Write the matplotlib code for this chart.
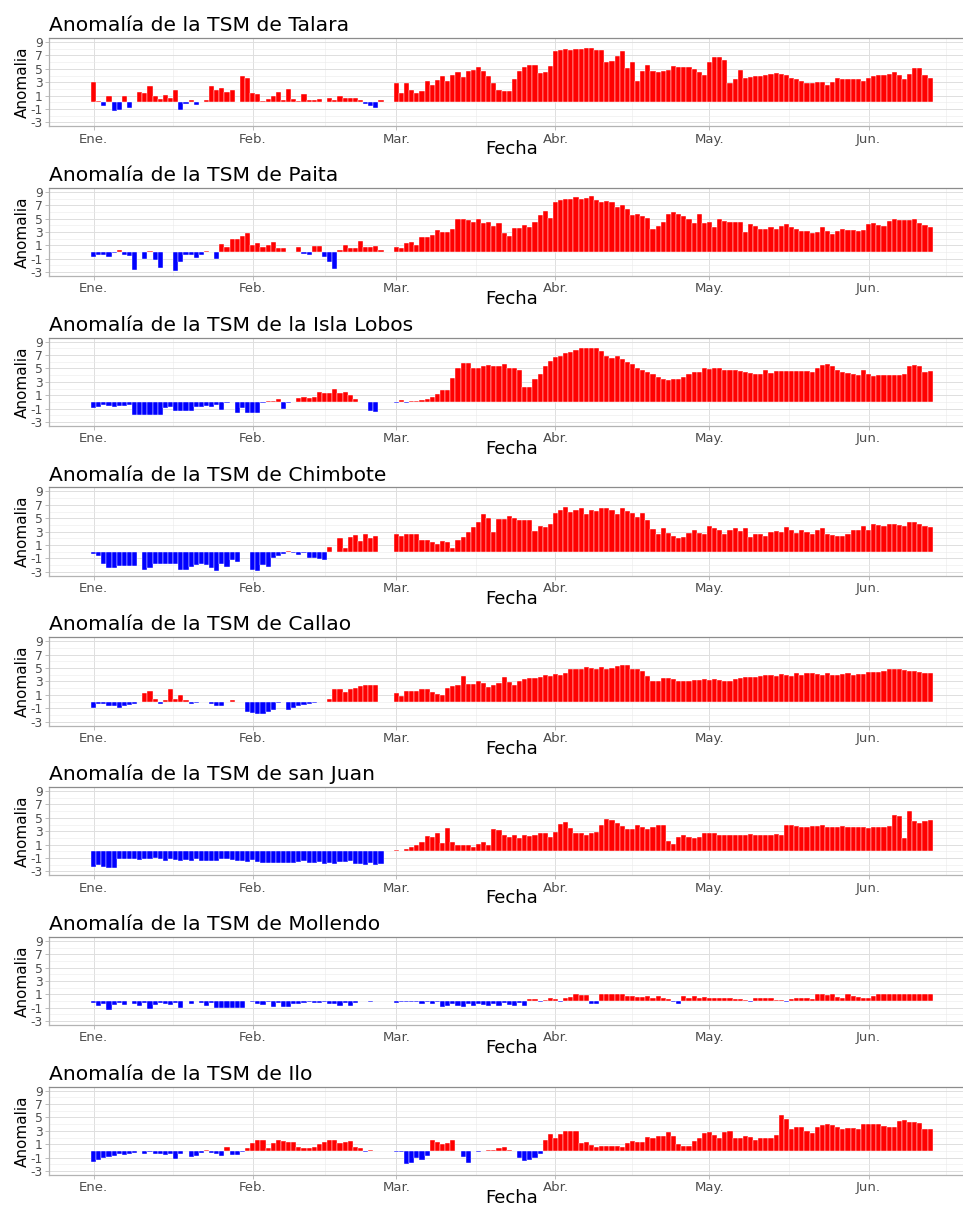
import numpy as np
import pandas as pd
import matplotlib
matplotlib.use("Agg")
import matplotlib.pyplot as plt

plt.rcParams["font.family"] = ["DejaVu Sans"]
plt.rcParams["axes.unicode_minus"] = False

N = None
fechas = pd.date_range("2023-01-01", periods=164, freq="D")

# anomalías diarias de TSM (°C), ene-jun 2023; N = sin dato
talara = [3.0, 0.2, -0.6, 1.0, -1.3, -1.1, 1.0, -0.8, N, 1.6, 1.4, 2.4, 0.9, 0.5, 1.1, 0.6,
          1.9, -1.2, -0.3, 0.3, -0.4, 0.1, 0.4, 2.4, 1.9, 2.1, 1.6, 1.8, 0.1, 3.9, 3.7,
          1.4, 1.2, 0.2, 0.5, 0.9, 1.5, 0.3, 2.0, 0.5, 0.2, 1.2, 0.3, 0.3, 0.5, N, 0.6,
          0.4, 0.9, 0.6, 0.6, 0.7, 0.3, -0.3, -0.5, -0.8, 0.3, N, N,
          2.9, 1.4, 2.9, 1.85, 1.45, 1.75, 3.25, 2.55, 3.35, 3.95, 3.2, 4.1, 4.5, 3.85, 4.7,
          4.85, 5.25, 4.7, 3.95, 2.95, 1.85, 1.7, 1.7, 3.45, 4.65, 5.25, 5.55, 5.55, 4.4, 4.6, 5.5,
          7.7, 7.85, 7.9, 7.75, 7.9, 7.9, 8.05, 8.05, 7.8, 7.8, 5.95, 6.2, 6.95, 7.65, 5.15,
          6.05, 3.25, 4.75, 5.65, 4.65, 4.5, 4.65, 4.8, 5.4, 5.3, 5.3, 5.25, 5.05, 4.55, 4.1,
          5.95, 6.7, 6.7, 6.3, 2.85, 3.45, 4.9, 3.7, 3.85, 3.95, 3.9, 4.05, 4.2, 4.45, 4.2,
          4.05, 3.7, 3.5, 3.2, 2.95, 2.95, 3.05, 3.05, 2.6, 3.0, 3.7, 3.55, 3.45, 3.45, 3.55, 3.2,
          3.7, 3.9, 4.05, 4.05, 4.25, 4.5, 4.1, 3.55, 4.2, 5.2, 5.2, 4.05, 3.6]
paita = [-0.8, -0.5, -0.5, -0.8, -0.2, 0.35, -0.4, -0.6, -2.7, N, -1.1, 0.1, -1.15, -2.4, N, N,
         -2.8, -1.5, -0.5, -0.5, -0.9, -0.5, 0.1, N, -1.0, 1.2, 0.75, 1.9, 2.0, 2.4, 2.9,
         1.0, 1.4, 0.8, 1.0, 1.5, 0.65, 0.65, 0.05, N, 0.75, -0.3, -0.5, 0.9, 0.9, -0.75, -1.5,
         -2.6, 0.35, 1.0, 0.6, 0.6, 1.6, 0.7, 0.7, 0.95, 0.35, N, N,
         0.7, 0.55, 1.35, 1.45, 1.05, 2.3, 2.3, 2.55, 3.3, 2.95, 2.95, 3.45, 5.0, 4.9, 4.85,
         4.55, 4.9, 4.4, 4.55, 3.95, 4.3, 2.9, 2.45, 3.55, 3.55, 4.0, 3.7, 4.5, 5.6, 6.15, 5.1,
         7.45, 7.8, 7.9, 7.9, 8.2, 7.95, 8.1, 8.4, 7.8, 7.5, 7.65, 7.45, 6.8, 7.0, 6.4,
         5.5, 5.75, 5.45, 5.15, 3.5, 3.85, 4.45, 5.75, 6.05, 5.65, 5.35, 5.0, 4.3, 5.65, 4.4,
         4.45, 3.75, 4.9, 4.6, 4.5, 4.5, 4.5, 3.0, 4.2, 3.95, 3.4, 3.45, 3.75, 3.5, 3.9,
         4.2, 3.8, 3.45, 3.15, 3.15, 2.9, 3.05, 3.7, 3.15, 2.75, 3.15, 3.5, 3.3, 3.25, 3.1, 3.25,
         4.2, 4.4, 4.05, 3.95, 4.65, 5.0, 4.75, 4.75, 4.75, 4.9, 4.4, 4.1, 3.75]
lobos = [-0.9, -0.7, -0.5, -0.6, -0.8, -0.6, -0.6, -0.5, -1.9, -1.9, -1.9, -2.0, -2.0, -1.9, -0.9, -0.8,
         -1.4, -1.4, -1.4, -1.4, -0.8, -0.8, -0.6, -0.8, -0.4, -1.2, -0.1, N, -1.6, -0.9, -1.6,
         -1.6, -1.6, -0.1, 0.2, 0.2, 0.5, -1.0, -0.1, N, 0.6, 0.7, 0.6, 0.8, 1.5, 1.4, 1.3,
         1.9, 1.4, 1.5, 1.1, 0.5, 0.0, N, -1.4, -1.5, N, N, N,
         -0.2, 0.3, -0.2, 0.1, 0.2, 0.3, 0.5, 0.7, 1.2, 1.8, 1.8, 3.5, 5.0, 5.8, 5.8,
         5.1, 5.1, 5.4, 5.5, 5.3, 5.4, 5.6, 5.1, 5.0, 4.7, 2.3, 2.3, 3.4, 4.2, 5.3, 6.1,
         6.7, 6.9, 7.3, 7.4, 7.8, 8.0, 8.0, 8.0, 8.0, 7.6, 6.8, 6.5, 6.9, 6.4, 6.0,
         5.6, 5.1, 4.8, 4.4, 4.1, 3.7, 3.4, 3.3, 3.4, 3.4, 3.7, 4.2, 4.4, 4.5, 5.0,
         4.9, 5.0, 5.0, 4.8, 4.8, 4.7, 4.6, 4.5, 4.3, 4.2, 4.2, 4.7, 4.3, 4.6, 4.6,
         4.6, 4.6, 4.6, 4.6, 4.6, 4.5, 5.0, 5.5, 5.7, 5.3, 4.8, 4.5, 4.3, 4.1, 4.0, 4.8,
         4.2, 3.8, 4.0, 4.0, 4.0, 4.0, 4.0, 4.1, 5.3, 5.5, 5.4, 4.4, 4.6]
chimbote = [-0.4, -0.6, -1.8, -2.4, -2.4, -2.2, -2.2, -2.1, -2.1, N, -2.7, -2.4, -1.9, -1.9, -1.9, -1.8,
            -1.8, -2.7, -2.7, -2.3, -2.0, -1.9, -2.0, -2.4, -2.9, -1.9, -2.3, -1.2, -1.5, N, N,
            -2.7, -2.9, -2.0, -2.3, -0.9, -0.7, -0.3, 0.1, -0.2, -0.5, -0.2, -1.0, -1.0, -1.1, -1.2,
            0.7, 0.0, 2.0, 0.6, 2.2, 2.5, 1.6, 2.7, 2.0, 2.3, N, N, N,
            2.6, 2.3, 2.6, 2.6, 2.6, 1.8, 1.8, 1.4, 1.1, 1.6, 1.5, 0.5, 1.7, 2.2, 2.9,
            3.7, 4.4, 5.6, 5.0, 3.0, 4.9, 4.9, 5.3, 5.1, 4.8, 4.8, 4.8, 3.1, 3.8, 3.7, 4.1,
            5.8, 6.2, 6.7, 5.9, 6.2, 6.5, 5.6, 6.2, 6.1, 6.5, 6.6, 6.3, 5.7, 6.5, 6.1,
            5.8, 5.2, 5.8, 4.8, 3.4, 2.6, 3.6, 2.8, 2.3, 2.0, 2.2, 2.8, 3.2, 2.8, 2.7,
            3.9, 3.6, 3.2, 2.7, 3.2, 3.5, 3.1, 3.5, 2.2, 2.7, 2.6, 2.4, 2.9, 3.1, 3.0,
            3.7, 3.3, 2.8, 3.2, 3.0, 2.6, 3.3, 3.5, 2.7, 2.5, 2.3, 2.4, 2.7, 3.2, 3.2, 3.8,
            3.3, 4.1, 4.0, 3.9, 4.1, 4.1, 4.0, 3.9, 4.5, 4.5, 4.2, 3.8, 3.7]
callao = [-0.9, -0.4, -0.4, -0.6, -0.6, -0.9, -0.7, -0.5, -0.3, 0.0, 1.3, 1.6, 0.4, -0.3, 0.2, 1.8,
          0.4, 0.9, 0.2, -0.4, -0.2, 0.0, -0.1, -0.3, -0.6, -0.6, -0.1, 0.2, -0.1, -0.1, -1.6,
          -1.7, -1.8, -1.8, -1.6, -1.2, -0.2, 0.0, -1.2, -0.9, -0.7, -0.5, -0.3, -0.2, N, N,
          0.4, 1.9, 1.8, 1.4, 1.8, 2.0, 2.3, 2.4, 2.4, 2.5, N, N, N,
          1.2, 0.8, 1.5, 1.5, 1.5, 1.8, 1.8, 1.4, 1.1, 1.0, 2.0, 2.3, 2.5, 3.8, 2.6,
          2.6, 3.1, 2.8, 2.2, 2.5, 2.7, 3.6, 2.9, 2.5, 3.1, 3.3, 3.5, 3.5, 3.7, 3.9, 3.8,
          4.1, 3.9, 4.3, 4.8, 4.9, 4.9, 5.2, 5.0, 4.9, 5.1, 4.8, 5.0, 5.3, 5.5, 5.5,
          4.9, 4.8, 4.5, 3.8, 3.0, 3.0, 3.5, 3.5, 3.4, 3.1, 3.1, 3.0, 3.2, 3.2, 3.3,
          3.2, 3.3, 3.2, 3.1, 3.1, 3.3, 3.5, 3.6, 3.7, 3.6, 3.8, 4.0, 3.9, 3.8, 4.1,
          3.9, 3.8, 4.2, 4.0, 4.3, 4.2, 4.1, 3.9, 4.2, 4.0, 3.9, 4.1, 4.2, 4.0, 4.1, 4.1,
          4.4, 4.4, 4.4, 4.6, 4.8, 4.9, 4.8, 4.7, 4.6, 4.5, 4.4, 4.3, 4.3]
san_juan = [-2.4, -2.1, -2.3, -2.5, -2.5, -1.2, -1.1, -1.2, -1.1, -1.3, -1.2, -1.1, -1.0, -1.2, -1.4, -1.1,
            -1.3, -1.4, -1.3, -1.4, -1.2, -1.5, -1.4, -1.5, -1.4, -1.2, -1.2, -1.3, -1.5, -1.4, -1.6,
            -1.3, -1.6, -1.7, -1.7, -1.7, -1.7, -1.8, -1.7, -1.8, -1.6, -1.5, -1.7, -1.8, -1.6, -1.9,
            -1.8, -1.9, -1.6, -1.6, -1.5, -1.9, -1.9, -2.0, -1.8, -2.0, -1.9, N, N,
            0.15, 0.05, 0.3, 0.7, 1.0, 1.4, 2.3, 2.2, 2.7, 1.2, 3.5, 1.4, 0.9, 0.9, 1.0,
            0.7, 1.1, 1.4, 1.0, 3.4, 3.2, 2.5, 2.2, 2.4, 2.0, 2.4, 2.3, 2.5, 2.7, 2.7, 2.1,
            2.9, 4.1, 4.4, 3.5, 2.7, 2.7, 2.5, 2.8, 2.9, 3.9, 4.9, 4.7, 4.2, 3.8, 3.3,
            3.4, 4.0, 3.6, 3.4, 3.7, 4.0, 3.9, 1.5, 1.1, 2.2, 2.5, 2.2, 2.0, 2.1, 2.8,
            2.7, 2.7, 2.5, 2.4, 2.5, 2.5, 2.5, 2.4, 2.6, 2.5, 2.4, 2.5, 2.5, 2.6, 2.4,
            3.9, 3.9, 3.8, 3.6, 3.6, 3.8, 3.8, 3.9, 3.6, 3.6, 3.6, 3.8, 3.7, 3.6, 3.6, 3.6,
            3.5, 3.6, 3.6, 3.7, 3.8, 5.4, 5.3, 2.0, 6.0, 4.5, 4.3, 4.5, 4.7]
mollendo = [-0.3, -0.8, -0.4, -1.3, -0.6, -0.3, -0.6, N, -0.4, -0.7, -0.3, -1.2, -0.6, -0.3, -0.5, -0.6,
            -0.3, -1.0, N, -0.4, N, -0.3, -0.7, -0.3, -1.0, -1.0, -1.0, -1.1, -1.0, -1.0, 0.0,
            -0.2, -0.4, -0.6, -0.2, -0.9, -0.3, -0.9, -0.9, -0.5, -0.5, -0.3, -0.2, -0.3, -0.3, -0.2,
            -0.4, -0.5, -0.7, -0.3, -0.7, -0.3, N, N, -0.2, N, N, N, N,
            -0.3, -0.2, -0.2, -0.2, -0.2, -0.4, -0.2, -0.5, -0.2, -0.9, -0.8, -0.5, -0.7, -0.9, -0.4,
            -0.8, -0.5, -0.6, -0.8, -0.4, -0.7, -0.3, -0.6, -0.7, -0.3, -0.8, 0.3, 0.3, -0.1, 0.2, 0.4,
            0.3, -0.2, 0.4, 0.6, 1.0, 0.9, 0.9, -0.4, -0.4, 1.0, 1.1, 1.1, 1.1, 1.0, 0.8,
            0.7, 0.6, 0.6, 0.7, 0.5, 0.7, 0.4, 0.3, -0.2, -0.4, 0.7, 0.4, 0.7, 0.4, 0.6,
            0.5, 0.4, 0.5, 0.4, 0.4, 0.3, 0.3, 0.2, -0.2, 0.5, 0.4, 0.4, 0.4, 0.2, 0.1,
            -0.2, 0.3, 0.4, 0.5, 0.4, 0.3, 1.1, 1.0, 0.9, 1.1, 0.6, 0.5, 1.0, 0.8, 0.6, 0.5,
            0.5, 0.7, 1.0, 1.1, 1.1, 1.1, 1.1, 1.0, 1.1, 1.0, 1.1, 1.1, 1.0]
ilo = [-1.7, -1.4, -1.0, -0.9, -0.7, -0.5, -0.6, -0.4, -0.3, N, -0.5, -0.2, -0.5, -0.5, -0.6, -0.5,
       -1.2, -0.4, N, -0.9, -0.7, -0.3, 0.1, -0.3, -0.5, -0.8, 0.6, -0.6, -0.6, -0.1, 0.5,
       1.2, 1.7, 1.6, 0.5, 1.2, 1.7, 1.5, 1.3, 1.4, 0.6, 0.5, 0.5, 0.6, 1.0, 1.4,
       1.7, 1.6, 1.2, 1.4, 1.5, 0.6, 0.5, -0.2, 0.2, N, N, N, N,
       -0.1, -0.1, -2.0, -1.8, -1.1, -1.4, -0.7, 1.7, 1.3, 1.1, 1.2, 1.6, N, -0.9, -1.8,
       N, -0.2, N, 0.2, 0.2, 0.4, 0.6, 0.2, N, -1.1, -1.5, -1.3, -1.1, -0.5, 1.7, 2.5,
       1.9, 2.6, 3.0, 2.9, 3.0, 1.2, 1.4, 0.9, 0.6, 0.8, 0.7, 0.8, 0.8, 0.6, 1.2,
       1.5, 1.4, 1.4, 2.1, 1.9, 2.2, 2.3, 2.8, 2.2, 1.0, 0.8, 0.8, 1.5, 2.0, 2.7,
       2.8, 2.4, 2.0, 2.8, 3.0, 1.9, 2.0, 2.2, 2.1, 1.7, 1.9, 2.0, 2.0, 2.4, 5.4,
       4.8, 3.3, 3.5, 3.5, 3.0, 2.7, 3.5, 3.8, 4.0, 3.8, 3.5, 3.3, 3.4, 3.4, 3.3, 4.0,
       4.0, 4.0, 4.0, 3.7, 3.5, 3.5, 4.4, 4.6, 4.3, 4.3, 4.2, 3.2, 3.2]

estaciones = ["Talara", "Paita", "la Isla Lobos", "Chimbote", "Callao", "san Juan", "Mollendo", "Ilo"]
series = [talara, paita, lobos, chimbote, callao, san_juan, mollendo, ilo]
meses = ["Ene.", "Feb.", "Mar.", "Abr.", "May.", "Jun."]

dias = (fechas - fechas[0]).days.to_numpy()
inicio_mes = pd.date_range("2023-01-01", periods=7, freq="MS")
pos_mes = (inicio_mes - fechas[0]).days.to_numpy().astype(float)
menores_x = (pos_mes[:-1] + pos_mes[1:]) / 2

W, H = 963, 1206
fig = plt.figure(figsize=(W / 100, H / 100), dpi=100)

x_izq, x_der = 49, 974.8       # borde del panel (px); el derecho queda fuera del lienzo
unidad = 6.69                   # px por grado
paso = 149.8

for k, (nombre, vals) in enumerate(zip(estaciones, series)):
    assert len(vals) == len(fechas), (nombre, len(vals))
    v = np.array([np.nan if a is None else a for a in vals], dtype=float)
    y0 = 102.3 + paso * k
    top = y0 - 9.6 * unidad
    bot = y0 + 3.6 * unidad
    ax = fig.add_axes([x_izq / W, 1 - bot / H, (x_der - x_izq) / W, (bot - top) / H])

    ok = ~np.isnan(v)
    colores = np.where(v[ok] >= 0, "#FF0000", "#0000FF")
    ax.bar(dias[ok], v[ok], width=1.0, color=colores, edgecolor="white", linewidth=0.3, zorder=3)

    ax.set_xlim(-8.69, 171.7)
    ax.set_ylim(-3.6, 9.6)
    ax.set_yticks(np.arange(-3, 10, 2))
    ax.set_yticks(np.arange(-2, 10, 2), minor=True)
    ax.set_xticks(pos_mes[:-1])
    ax.set_xticklabels(meses)
    ax.set_xticks(menores_x, minor=True)
    ax.grid(which="major", color="#DEDEDE", linewidth=0.7, zorder=0)
    ax.grid(which="minor", color="#EBEBEB", linewidth=0.4, zorder=0)
    ax.set_axisbelow(True)
    for s in ax.spines.values():
        s.set_color("#B3B3B3")
        s.set_linewidth(0.9)
    ax.spines["top"].set_color("#8C8C8C")
    ax.tick_params(which="major", length=3, width=0.6, color="#B3B3B3", labelcolor="#4D4D4D", pad=1.5)
    ax.tick_params(axis="x", labelsize=9.5)
    ax.tick_params(axis="y", labelsize=8.8)
    ax.tick_params(which="minor", length=0)

    ax.set_title(f"Anomalía de la TSM de {nombre}", loc="left", fontsize=14.6, pad=5, color="black")
    fig.text((x_izq + x_der) / 2 / W, 1 - (y0 + 47) / H, "Fecha", ha="center", va="center", fontsize=13)
    fig.text(22 / W, 1 - (top + bot) / 2 / H, "Anomalia", rotation=90, ha="center", va="center", fontsize=11)

fig.savefig("out.png", dpi=100, facecolor="white")
